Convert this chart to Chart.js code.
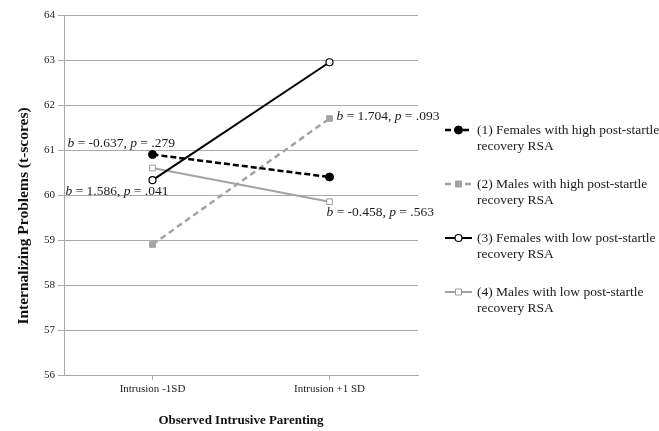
<!DOCTYPE html>
<html>
<head>
<meta charset="utf-8">
<script src="https://cdn.jsdelivr.net/npm/chart.js@4.4.1/dist/chart.umd.min.js"></script>
<style>
  html, body { margin: 0; padding: 0; background: #fff; }
  #wrap { width: 659px; height: 431px; }
</style>
</head>
<body>
<div id="wrap"><canvas id="chart" width="659" height="431"></canvas></div>
<script>
// data
var categories = ['Intrusion -1SD', 'Intrusion +1 SD'];
var femalesHigh = [60.9, 60.4];
var malesHigh = [58.9, 61.7];
var femalesLow = [60.33, 62.95];
var malesLow = [60.6, 59.85];
var yMin = 56, yMax = 64, yStep = 1;

var seriesNames = [
    ['(1) Females with high post-startle', 'recovery RSA'],
    ['(2) Males with high post-startle', 'recovery RSA'],
    ['(3) Females with low post-startle', 'recovery RSA'],
    ['(4) Males with low post-startle', 'recovery RSA']
];
// slope labels: b, p
var slopeB = ['-0.637', '1.704', '1.586', '-0.458'];
var slopeP = ['.279', '.093', '.041', '.563'];
var yTitle = 'Internalizing Problems (t-scores)';
var xTitle = 'Observed Intrusive Parenting';

var SERIF = '"Liberation Serif", "DejaVu Serif", serif';
var GRID = '#a9a9a9';
var GRAY = '#a3a3a3';

var datasets = [
    {
        label: seriesNames[0].join(' '), data: femalesHigh,
        borderColor: '#000', backgroundColor: '#000', borderWidth: 2.5,
        borderDash: [6, 3], pointStyle: 'circle', pointRadius: 4,
        pointBackgroundColor: '#000', pointBorderColor: '#000', pointBorderWidth: 1
    },
    {
        label: seriesNames[1].join(' '), data: malesHigh,
        borderColor: GRAY, backgroundColor: GRAY, borderWidth: 2.5,
        borderDash: [6, 4], pointStyle: 'rect', pointRadius: 4,
        pointBackgroundColor: GRAY, pointBorderColor: GRAY, pointBorderWidth: 1
    },
    {
        label: seriesNames[2].join(' '), data: femalesLow,
        borderColor: '#000', backgroundColor: '#fff', borderWidth: 2,
        pointStyle: 'circle', pointRadius: 3.5,
        pointBackgroundColor: '#fff', pointBorderColor: '#000', pointBorderWidth: 1.2
    },
    {
        label: seriesNames[3].join(' '), data: malesLow,
        borderColor: GRAY, backgroundColor: '#fff', borderWidth: 2,
        pointStyle: 'rect', pointRadius: 4,
        pointBackgroundColor: '#fff', pointBorderColor: '#999', pointBorderWidth: 1
    }
];

// where each slope label sits, relative to a point (dataset, index)
var slopeAnchors = [
    { ds: 0, idx: 0, dx: -85, dy: -11 },
    { ds: 1, idx: 1, dx: 7, dy: -2 },
    { ds: 2, idx: 0, dx: -87, dy: 11 },
    { ds: 3, idx: 1, dx: -3, dy: 11 }
];

function drawRich(ctx, x, y, parts) {
    parts.forEach(function (p) {
        ctx.font = (p.italic ? 'italic ' : '') + '13.5px ' + SERIF;
        ctx.fillText(p.t, x, y);
        x += ctx.measureText(p.t).width;
    });
}

var slopePlugin = {
    id: 'slopeLabels',
    afterDatasetsDraw: function (chart) {
        var ctx = chart.ctx;
        ctx.save();
        ctx.fillStyle = '#1a1a1a';
        ctx.textBaseline = 'middle';
        ctx.textAlign = 'left';
        slopeAnchors.forEach(function (a, i) {
            var pt = chart.getDatasetMeta(a.ds).data[a.idx];
            drawRich(ctx, pt.x + a.dx, pt.y + a.dy, [
                { t: 'b', italic: true },
                { t: ' = ' + slopeB[i] + ', ' },
                { t: 'p', italic: true },
                { t: ' = ' + slopeP[i] }
            ]);
        });
        ctx.restore();
    }
};

// y title sits a bit below the middle of the axis in the original
var yTitlePlugin = {
    id: 'yTitle',
    afterDraw: function (chart) {
        var ctx = chart.ctx;
        ctx.save();
        ctx.translate(24, 216);
        ctx.rotate(-Math.PI / 2);
        ctx.font = 'bold 15.5px ' + SERIF;
        ctx.fillStyle = '#111';
        ctx.textAlign = 'center';
        ctx.textBaseline = 'middle';
        ctx.fillText(yTitle, 0, 0);
        ctx.restore();
    }
};

// legend on the right, two lines per entry
var legendPlugin = {
    id: 'sideLegend',
    afterDraw: function (chart) {
        var ctx = chart.ctx;
        var x0 = 445, x1 = 472, tx = 477, y0 = 130, rowGap = 54, lineGap = 16;
        ctx.save();
        datasets.forEach(function (ds, i) {
            var y = y0 + i * rowGap;
            ctx.strokeStyle = ds.borderColor;
            ctx.lineWidth = ds.borderWidth;
            ctx.setLineDash(ds.borderDash || []);
            ctx.beginPath();
            ctx.moveTo(x0, y);
            ctx.lineTo(x1, y);
            ctx.stroke();
            ctx.setLineDash([]);
            ctx.fillStyle = ds.pointBackgroundColor;
            ctx.strokeStyle = ds.pointBorderColor;
            ctx.lineWidth = ds.pointBorderWidth;
            ctx.beginPath();
            var cx = (x0 + x1) / 2, r = ds.pointRadius;
            if (ds.pointStyle === 'circle') {
                ctx.arc(cx, y, r, 0, Math.PI * 2);
            } else {
                ctx.rect(cx - r * 0.75, y - r * 0.75, r * 1.5, r * 1.5);
            }
            ctx.fill();
            ctx.stroke();

            ctx.fillStyle = '#1a1a1a';
            ctx.font = '13.5px ' + SERIF;
            ctx.textBaseline = 'middle';
            ctx.fillText(seriesNames[i][0], tx, y);
            ctx.fillText(seriesNames[i][1], tx, y + lineGap);
        });
        ctx.restore();
    }
};

new Chart(document.getElementById('chart').getContext('2d'), {
    type: 'line',
    data: { labels: categories, datasets: datasets },
    plugins: [slopePlugin, legendPlugin, yTitlePlugin],
    options: {
        responsive: false,
        animation: false,
        layout: { padding: { top: 15, right: 241, bottom: 0, left: 0 } },
        plugins: { legend: { display: false }, tooltip: { enabled: false } },
        scales: {
            x: {
                type: 'category',
                offset: true,
                afterFit: function (s) { s.height = 56; },
                grid: { drawOnChartArea: false, drawTicks: true, tickLength: 5, color: GRID },
                border: { color: GRID, width: 1 },
                ticks: { color: '#222', font: { family: SERIF, size: 11 }, padding: 3 },
                title: {
                    display: true, text: xTitle, color: '#111',
                    font: { family: SERIF, size: 13, weight: 'bold' },
                    padding: { top: 0, bottom: 3 }
                }
            },
            y: {
                min: yMin, max: yMax,
                afterFit: function (s) { s.width = 64; },
                grid: { color: GRID, lineWidth: 1, tickLength: 6 },
                border: { color: GRID, width: 1 },
                ticks: { stepSize: yStep, color: '#222', font: { family: SERIF, size: 11 }, padding: 3 },
                title: { display: false }
            }
        }
    }
});
</script>
</body>
</html>
